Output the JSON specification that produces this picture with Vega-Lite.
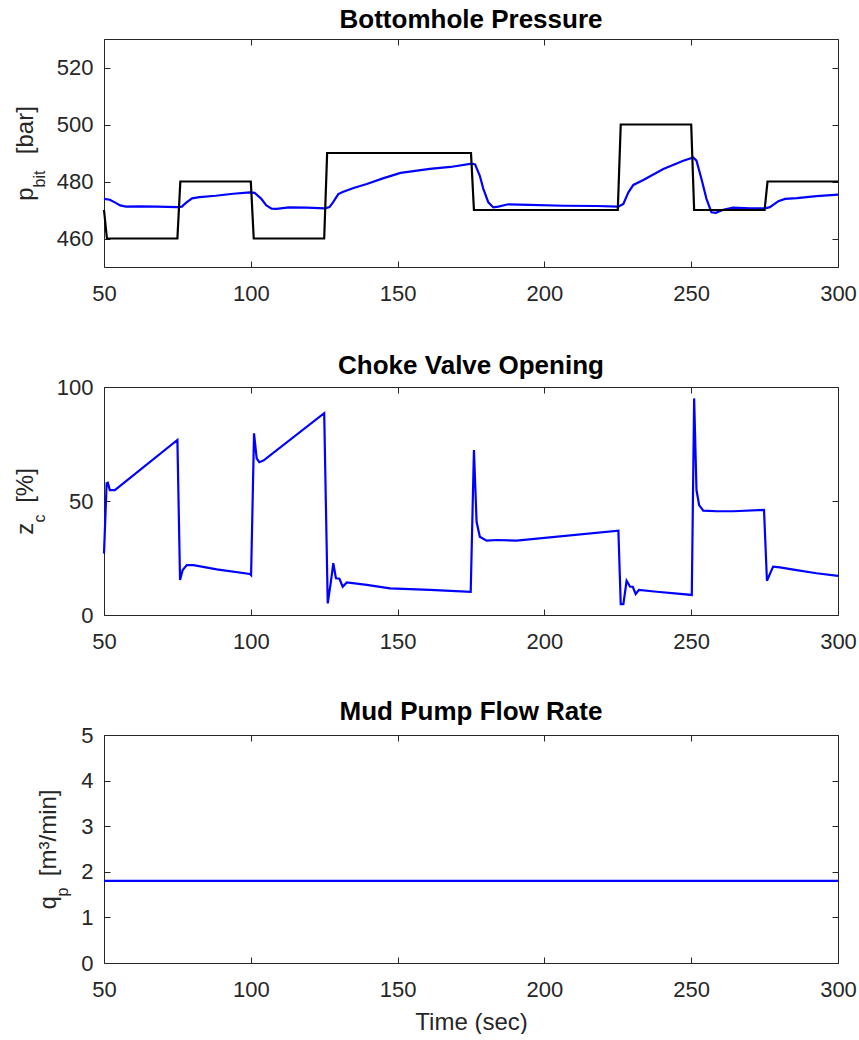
{
  "$schema": "https://vega.github.io/schema/vega-lite/v6.json",
  "background": "white",
  "autosize": {"type": "pad"},
  "padding": {"left": 13, "top": 6, "right": 5, "bottom": 0},
  "spacing": 120,
  "bounds": "flush",
  "config": {
    "view": {"stroke": null},
    "axis": {
      "grid": false,
      "labelFlush": false,
      "domainColor": "#262626",
      "domainWidth": 1,
      "tickColor": "#262626",
      "tickWidth": 1,
      "tickSize": -6,
      "labelFont": "Liberation Sans",
      "labelFontSize": 22,
      "labelColor": "#262626",
      "titleFont": "Liberation Sans",
      "titleFontSize": 24,
      "titleFontWeight": "normal",
      "titleColor": "#262626"
    },
    "axisX": {"labelPadding": 22},
    "axisY": {"labelPadding": 17},
    "title": {"font": "Liberation Sans", "fontSize": 26, "fontWeight": "bold", "color": "#000000", "anchor": "middle", "frame": "group", "baseline": "alphabetic"}
  },
  "datasets": {
    "pbit": [
      {"t": 50, "v": 473.9, "s": "meas"}, {"t": 52, "v": 473.6, "s": "meas"}, {"t": 54, "v": 472.5, "s": "meas"}, {"t": 55.5, "v": 471.6, "s": "meas"}, {"t": 57.5, "v": 471.2, "s": "meas"}, {"t": 62, "v": 471.3, "s": "meas"}, {"t": 68, "v": 471.2, "s": "meas"}, {"t": 75, "v": 471.0, "s": "meas"}, {"t": 76.5, "v": 471.2, "s": "meas"}, {"t": 78, "v": 472.6, "s": "meas"}, {"t": 80, "v": 474.1, "s": "meas"}, {"t": 82.5, "v": 474.5, "s": "meas"}, {"t": 88, "v": 475.0, "s": "meas"}, {"t": 94, "v": 475.7, "s": "meas"}, {"t": 99.7, "v": 476.2, "s": "meas"}, {"t": 101.3, "v": 476.0, "s": "meas"}, {"t": 103.5, "v": 474.0, "s": "meas"}, {"t": 105.3, "v": 471.6, "s": "meas"}, {"t": 107.1, "v": 470.5, "s": "meas"}, {"t": 108.8, "v": 470.4, "s": "meas"}, {"t": 113, "v": 470.9, "s": "meas"}, {"t": 119, "v": 470.8, "s": "meas"}, {"t": 125.3, "v": 470.6, "s": "meas"}, {"t": 126.8, "v": 471.0, "s": "meas"}, {"t": 128, "v": 472.7, "s": "meas"}, {"t": 129.8, "v": 475.6, "s": "meas"}, {"t": 131.5, "v": 476.4, "s": "meas"}, {"t": 135, "v": 477.7, "s": "meas"}, {"t": 139.5, "v": 479.1, "s": "meas"}, {"t": 145, "v": 481.1, "s": "meas"}, {"t": 151, "v": 483.0, "s": "meas"}, {"t": 161, "v": 484.4, "s": "meas"}, {"t": 168, "v": 485.1, "s": "meas"}, {"t": 175.2, "v": 486.3, "s": "meas"}, {"t": 176.4, "v": 486.0, "s": "meas"}, {"t": 178, "v": 482.0, "s": "meas"}, {"t": 179.2, "v": 477.4, "s": "meas"}, {"t": 180.9, "v": 472.7, "s": "meas"}, {"t": 182.6, "v": 470.9, "s": "meas"}, {"t": 184.3, "v": 471.2, "s": "meas"}, {"t": 187.7, "v": 472.0, "s": "meas"}, {"t": 195, "v": 471.8, "s": "meas"}, {"t": 206.5, "v": 471.5, "s": "meas"}, {"t": 217.8, "v": 471.4, "s": "meas"}, {"t": 225.2, "v": 471.2, "s": "meas"}, {"t": 226.9, "v": 472.1, "s": "meas"}, {"t": 228.6, "v": 476.2, "s": "meas"}, {"t": 230.3, "v": 478.8, "s": "meas"}, {"t": 233.7, "v": 480.5, "s": "meas"}, {"t": 240.5, "v": 484.4, "s": "meas"}, {"t": 247.3, "v": 487.3, "s": "meas"}, {"t": 250.7, "v": 488.4, "s": "meas"}, {"t": 251.8, "v": 487.3, "s": "meas"}, {"t": 253.5, "v": 480.9, "s": "meas"}, {"t": 255.2, "v": 473.9, "s": "meas"}, {"t": 256.9, "v": 469.2, "s": "meas"}, {"t": 258.4, "v": 469.0, "s": "meas"}, {"t": 260.9, "v": 470.1, "s": "meas"}, {"t": 264.3, "v": 470.8, "s": "meas"}, {"t": 270, "v": 470.6, "s": "meas"}, {"t": 275.1, "v": 470.6, "s": "meas"}, {"t": 276.8, "v": 471.0, "s": "meas"}, {"t": 279.7, "v": 473.1, "s": "meas"}, {"t": 282, "v": 473.9, "s": "meas"}, {"t": 286, "v": 474.2, "s": "meas"}, {"t": 292.7, "v": 474.9, "s": "meas"}, {"t": 300, "v": 475.4, "s": "meas"},
      {"t": 50, "v": 470, "s": "ref"}, {"t": 51, "v": 460, "s": "ref"}, {"t": 75, "v": 460, "s": "ref"}, {"t": 76, "v": 480, "s": "ref"}, {"t": 100, "v": 480, "s": "ref"}, {"t": 101, "v": 460, "s": "ref"}, {"t": 125, "v": 460, "s": "ref"}, {"t": 126, "v": 490, "s": "ref"}, {"t": 175, "v": 490, "s": "ref"}, {"t": 176, "v": 470, "s": "ref"}, {"t": 225, "v": 470, "s": "ref"}, {"t": 226, "v": 500, "s": "ref"}, {"t": 250, "v": 500, "s": "ref"}, {"t": 251, "v": 470, "s": "ref"}, {"t": 275, "v": 470, "s": "ref"}, {"t": 276, "v": 480, "s": "ref"}, {"t": 300, "v": 480, "s": "ref"}
    ],
    "choke": [
      {"t": 50, "v": 27.0}, {"t": 50.9, "v": 57.8}, {"t": 51.3, "v": 58.0}, {"t": 52, "v": 54.8}, {"t": 53.7, "v": 54.8}, {"t": 75, "v": 76.8}, {"t": 75.9, "v": 15.4}, {"t": 76.8, "v": 19.7}, {"t": 78.2, "v": 21.9}, {"t": 80.5, "v": 21.9}, {"t": 88.4, "v": 20.0}, {"t": 99.7, "v": 18.0}, {"t": 100.1, "v": 17.5}, {"t": 101.1, "v": 79.7}, {"t": 102, "v": 68.7}, {"t": 102.9, "v": 67.0}, {"t": 104.3, "v": 67.7}, {"t": 125, "v": 88.5}, {"t": 126.2, "v": 5.1}, {"t": 127.2, "v": 13.9}, {"t": 128.1, "v": 22.7}, {"t": 129, "v": 16.1}, {"t": 130.2, "v": 15.9}, {"t": 131.3, "v": 12.4}, {"t": 132.7, "v": 14.3}, {"t": 139.5, "v": 13.2}, {"t": 147.4, "v": 11.7}, {"t": 161, "v": 11.0}, {"t": 174.9, "v": 10.2}, {"t": 176, "v": 72.4}, {"t": 176.9, "v": 40.9}, {"t": 178, "v": 34.3}, {"t": 180.3, "v": 32.6}, {"t": 183.7, "v": 32.9}, {"t": 190.5, "v": 32.6}, {"t": 225.2, "v": 37.0}, {"t": 226, "v": 4.8}, {"t": 226.9, "v": 4.8}, {"t": 228, "v": 15.0}, {"t": 229.2, "v": 12.4}, {"t": 230.1, "v": 12.4}, {"t": 231.1, "v": 9.2}, {"t": 232.2, "v": 11.0}, {"t": 238.3, "v": 10.2}, {"t": 250.2, "v": 8.8}, {"t": 251, "v": 95.0}, {"t": 251.8, "v": 54.8}, {"t": 252.7, "v": 48.2}, {"t": 254.1, "v": 45.8}, {"t": 258.6, "v": 45.5}, {"t": 264.3, "v": 45.5}, {"t": 274.8, "v": 46.1}, {"t": 275.8, "v": 15.0}, {"t": 277.9, "v": 21.2}, {"t": 280.2, "v": 20.9}, {"t": 285.9, "v": 19.7}, {"t": 292.7, "v": 18.3}, {"t": 300, "v": 17.2}
    ],
    "flow": [
      {"t": 50, "v": 1.8}, {"t": 300, "v": 1.8}
    ]
  },
  "vconcat": [
    {
      "width": 734, "height": 228,
      "title": {"text": "Bottomhole Pressure", "offset": 6},
      "data": {"name": "pbit"},
      "layer": [
        {
          "mark": {"type": "line", "strokeWidth": 2.2},
          "encoding": {
            "x": {"field": "t", "type": "quantitative", "scale": {"domain": [50, 300], "nice": false, "zero": false}, "axis": {"orient": "bottom", "values": [50, 100, 150, 200, 250, 300], "title": null}},
            "y": {"field": "v", "type": "quantitative", "scale": {"domain": [450, 530], "nice": false, "zero": false}, "axis": {"orient": "left", "values": [460, 480, 500, 520], "title": "p\u00a0\u00a0\u00a0\u00a0\u00a0[bar]", "titleAngle": 270, "titleAlign": "center", "titleBaseline": "alphabetic", "titleX": -72, "titleY": 114}},
            "color": {"field": "s", "type": "nominal", "scale": {"domain": ["meas", "ref"], "range": ["#0000ff", "#000000"]}, "legend": null}
          }
        },
        {
          "mark": {"type": "line", "strokeOpacity": 0},
          "encoding": {
            "x": {"field": "t", "type": "quantitative", "scale": {"domain": [50, 300], "nice": false, "zero": false}, "axis": {"orient": "top", "values": [50, 100, 150, 200, 250, 300], "labels": false, "title": null}},
            "y": {"field": "v", "type": "quantitative", "scale": {"domain": [450, 530], "nice": false, "zero": false}, "axis": {"orient": "right", "values": [460, 480, 500, 520], "labels": false, "title": "bit", "titleFontSize": 16, "titleAngle": 270, "titleAlign": "left", "titleBaseline": "alphabetic", "titleX": -794, "titleY": 148}}
          }
        }
      ],
      "resolve": {"scale": {"x": "independent", "y": "independent"}}
    },
    {
      "width": 734, "height": 228,
      "title": {"text": "Choke Valve Opening", "offset": -3},
      "data": {"name": "choke"},
      "layer": [
        {
          "mark": {"type": "line", "strokeWidth": 2.2, "color": "#0000ff"},
          "encoding": {
            "x": {"field": "t", "type": "quantitative", "scale": {"domain": [50, 300], "nice": false, "zero": false}, "axis": {"orient": "bottom", "values": [50, 100, 150, 200, 250, 300], "title": null}},
            "y": {"field": "v", "type": "quantitative", "scale": {"domain": [0, 100], "nice": false}, "axis": {"orient": "left", "values": [0, 50, 100], "title": "z\u00a0\u00a0\u00a0[%]", "titleAngle": 270, "titleAlign": "center", "titleBaseline": "alphabetic", "titleX": -72, "titleY": 114}}
          }
        },
        {
          "mark": {"type": "line", "strokeOpacity": 0},
          "encoding": {
            "x": {"field": "t", "type": "quantitative", "scale": {"domain": [50, 300], "nice": false, "zero": false}, "axis": {"orient": "top", "values": [50, 100, 150, 200, 250, 300], "labels": false, "title": null}},
            "y": {"field": "v", "type": "quantitative", "scale": {"domain": [0, 100], "nice": false}, "axis": {"orient": "right", "values": [0, 50, 100], "labels": false, "title": "c", "titleFontSize": 16, "titleAngle": 270, "titleAlign": "left", "titleBaseline": "alphabetic", "titleX": -794, "titleY": 135}}
          }
        }
      ],
      "resolve": {"scale": {"x": "independent", "y": "independent"}}
    },
    {
      "width": 734, "height": 228,
      "title": {"text": "Mud Pump Flow Rate", "offset": -1},
      "data": {"name": "flow"},
      "layer": [
        {
          "mark": {"type": "line", "strokeWidth": 2.2, "color": "#0000ff"},
          "encoding": {
            "x": {"field": "t", "type": "quantitative", "scale": {"domain": [50, 300], "nice": false, "zero": false}, "axis": {"orient": "bottom", "values": [50, 100, 150, 200, 250, 300], "title": "Time (sec)", "titleAlign": "center", "titleBaseline": "alphabetic", "titleX": 367, "titleY": 66}},
            "y": {"field": "v", "type": "quantitative", "scale": {"domain": [0, 5], "nice": false}, "axis": {"orient": "left", "values": [0, 1, 2, 3, 4, 5], "title": "q\u00a0\u00a0\u00a0[m³/min]", "titleAngle": 270, "titleAlign": "center", "titleBaseline": "alphabetic", "titleX": -49, "titleY": 114}}
          }
        },
        {
          "mark": {"type": "line", "strokeOpacity": 0},
          "encoding": {
            "x": {"field": "t", "type": "quantitative", "scale": {"domain": [50, 300], "nice": false, "zero": false}, "axis": {"orient": "top", "values": [50, 100, 150, 200, 250, 300], "labels": false, "title": null}},
            "y": {"field": "v", "type": "quantitative", "scale": {"domain": [0, 5], "nice": false}, "axis": {"orient": "right", "values": [0, 1, 2, 3, 4, 5], "labels": false, "title": "p", "titleFontSize": 16, "titleAngle": 270, "titleAlign": "left", "titleBaseline": "alphabetic", "titleX": -771, "titleY": 161}}
          }
        }
      ],
      "resolve": {"scale": {"x": "independent", "y": "independent"}}
    }
  ]
}
